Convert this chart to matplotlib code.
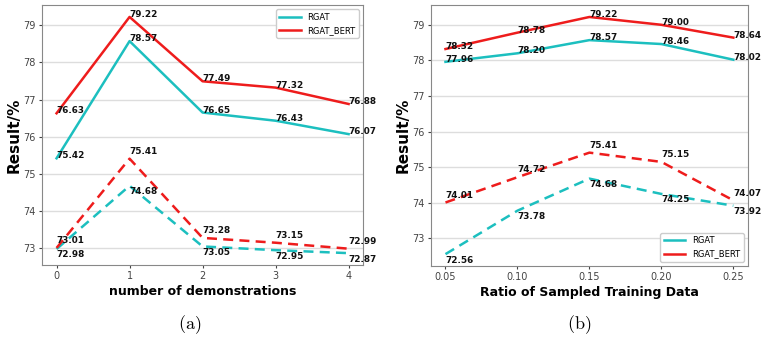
import matplotlib
matplotlib.use('Agg')
import matplotlib.pyplot as plt

plt.rcParams['mathtext.fontset'] = 'cm'

# (a) number of demonstrations
demos = [0, 1, 2, 3, 4]
a_rgat = [75.42, 78.57, 76.65, 76.43, 76.07]
a_bert = [76.63, 79.22, 77.49, 77.32, 76.88]
a_rgat_d = [72.98, 74.68, 73.05, 72.95, 72.87]
a_bert_d = [73.01, 75.41, 73.28, 73.15, 72.99]

# (b) ratio of sampled training data
ratios = [0.05, 0.10, 0.15, 0.20, 0.25]
b_rgat = [77.96, 78.20, 78.57, 78.46, 78.02]
b_bert = [78.32, 78.78, 79.22, 79.00, 78.64]
b_rgat_d = [72.56, 73.78, 74.68, 74.25, 73.92]
b_bert_d = [74.01, 74.72, 75.41, 75.15, 74.07]

CYAN = '#1cbfbf'
RED = '#ee1c1c'


def draw(ax, x, rgat, bert, rgat_d, bert_d, xlabel, xticks, legend_loc):
    ax.plot(x, rgat, color=CYAN, lw=1.8, label='RGAT')
    ax.plot(x, bert, color=RED, lw=1.8, label='RGAT_BERT')
    ax.plot(x, rgat_d, color=CYAN, lw=1.8, ls='--', dashes=(4, 2.5))
    ax.plot(x, bert_d, color=RED, lw=1.8, ls='--', dashes=(4, 2.5))
    kw = dict(fontsize=6.4, fontweight='bold', color='#111', clip_on=False)
    for xi, v in zip(x, rgat):
        ax.text(xi, v, f'{v:.2f}', ha='left', va='baseline', **kw)
    for xi, v in zip(x, bert):
        ax.text(xi, v, f'{v:.2f}', ha='left', va='baseline', **kw)
    for xi, v in zip(x, rgat_d):
        ax.annotate(f'{v:.2f}', (xi, v), xytext=(0, -1), textcoords='offset points',
                    ha='left', va='top', **kw)
    for xi, v in zip(x, bert_d):
        ax.annotate(f'{v:.2f}', (xi, v), xytext=(0, 2), textcoords='offset points',
                    ha='left', va='bottom', **kw)
    ax.set_xticks(x)
    ax.set_xticklabels(xticks)
    ax.set_yticks([73, 74, 75, 76, 77, 78, 79])
    ax.grid(axis='y', color='#dddddd', lw=1)
    ax.set_axisbelow(True)
    ax.tick_params(labelsize=7, colors='#444444', length=2.5, pad=2)
    for s in ax.spines.values():
        s.set_color('#888888')
    ax.set_xlabel(xlabel, fontsize=9, fontweight='bold', labelpad=3)
    ax.set_ylabel('Result/%', fontsize=11, fontweight='bold', labelpad=1)
    ax.legend(loc=legend_loc, fontsize=6, handlelength=2.6, framealpha=1,
              edgecolor='#cccccc', fancybox=True)


fig = plt.figure(figsize=(7.63, 3.41), dpi=100)
ax1 = fig.add_axes([0.055, 0.223, 0.421, 0.762])
ax2 = fig.add_axes([0.565, 0.220, 0.415, 0.765])

draw(ax1, demos, a_rgat, a_bert, a_rgat_d, a_bert_d,
     'number of demonstrations', [str(d) for d in demos], 'upper right')
draw(ax2, ratios, b_rgat, b_bert, b_rgat_d, b_bert_d,
     'Ratio of Sampled Training Data', [f'{r:.2f}' for r in ratios], 'lower right')

fig.text(0.249, 0.035, r'$\mathrm{(a)}$', ha='center', fontsize=13)
fig.text(0.759, 0.035, r'$\mathrm{(b)}$', ha='center', fontsize=13)

fig.savefig('out.png', dpi=100)
